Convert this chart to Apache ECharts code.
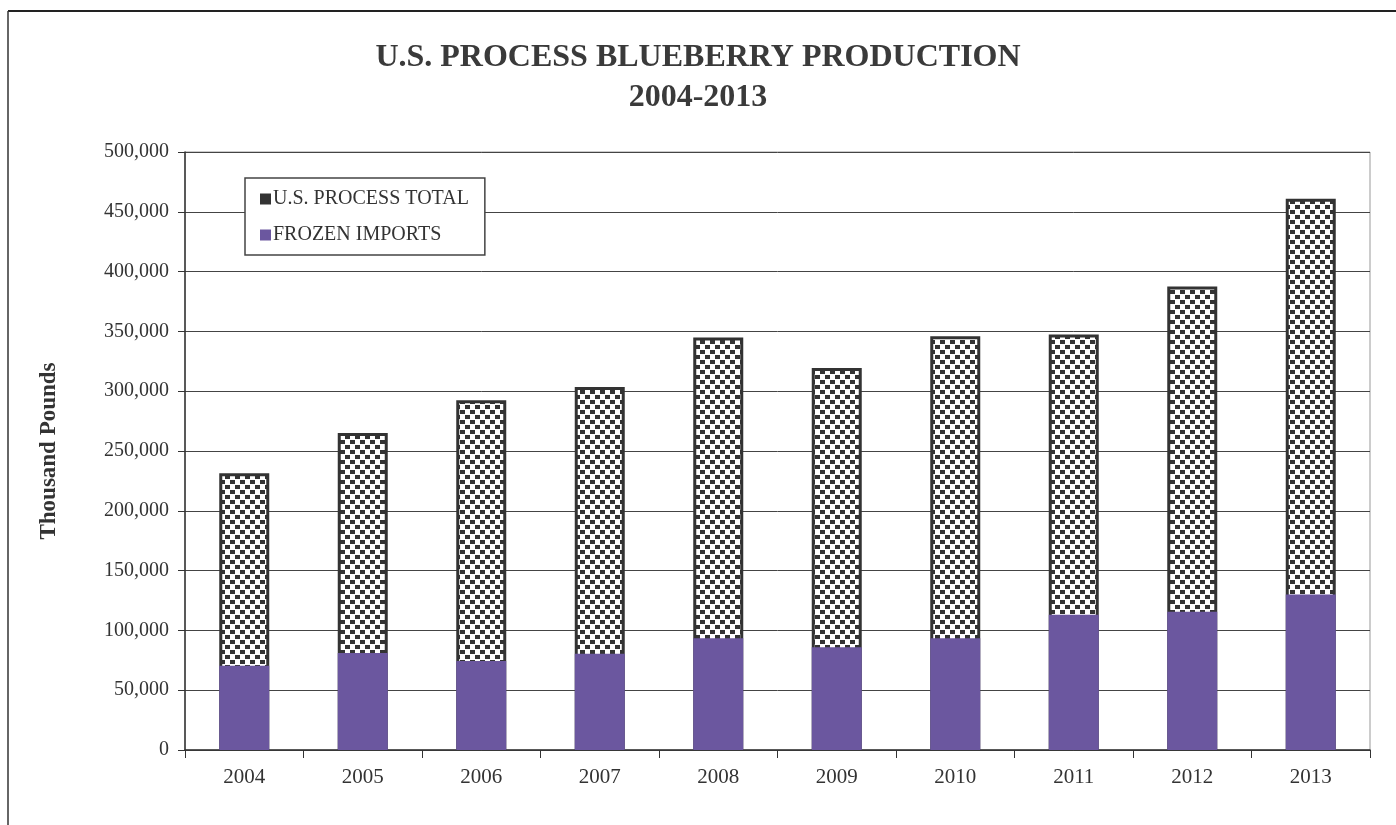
<!DOCTYPE html>
<html>
<head>
<meta charset="utf-8">
<script src="https://cdn.jsdelivr.net/npm/echarts@6/dist/echarts.min.js"></script>
<style>
  html, body { margin: 0; padding: 0; background: #fff; }
  #chart { width: 1396px; height: 825px; }
</style>
</head>
<body>
<div id="chart"></div>
<script>
// data
const years = ['2004', '2005', '2006', '2007', '2008', '2009', '2010', '2011', '2012', '2013'];
const processTotal = [231500, 265000, 292500, 303500, 345000, 319500, 346000, 347500, 387500, 461000];
const frozenImports = [70500, 81000, 74500, 80500, 93500, 86000, 93500, 113000, 115500, 130000];

const serif = '"Liberation Serif", "DejaVu Serif", serif';

// dotted fill for the total bars
const tile = document.createElement('canvas');
tile.width = 10;
tile.height = 10;
let ctx = tile.getContext('2d');
ctx.fillStyle = '#ffffff';
ctx.fillRect(0, 0, 10, 10);
ctx.fillStyle = '#333333';
ctx.fillRect(0, 0, 5, 4);
ctx.fillRect(5, 5, 5, 4);

let myChart = echarts.init(document.getElementById('chart'));

myChart.setOption({
    backgroundColor: '#fff',
    animation: false,
    title: {
        left: 'center',
        top: 33,
        text: 'U.S. PROCESS BLUEBERRY PRODUCTION\n2004-2013',
        textStyle: {
            fontFamily: serif,
            fontSize: 32,
            fontWeight: 'bold',
            color: '#3a3a3a',
            lineHeight: 40
        }
    },
    legend: {
        left: 245,
        top: 178,
        orient: 'vertical',
        padding: [11, 16, 10, 15],
        itemGap: 16,
        itemWidth: 11,
        itemHeight: 11,
        borderColor: '#444',
        borderWidth: 1.5,
        backgroundColor: '#fff',
        icon: 'rect',
        textStyle: { fontFamily: serif, fontSize: 20, color: '#333', padding: [0, 0, 0, -3] },
        data: [
            { name: 'U.S. PROCESS TOTAL', itemStyle: { color: '#333', borderWidth: 0 } },
            { name: 'FROZEN IMPORTS', itemStyle: { color: '#6b579f' } }
        ]
    },
    grid: {
        left: 185,
        right: 26,
        top: 152,
        bottom: 75,
        show: true,
        borderColor: '#999',
        borderWidth: 1
    },
    xAxis: {
        type: 'category',
        data: years,
        boundaryGap: true,
        axisLine: { lineStyle: { color: '#333', width: 1.5 } },
        axisTick: { show: true, interval: 0, length: 8, lineStyle: { color: '#333' } },
        axisLabel: { fontFamily: serif, fontSize: 21, color: '#333', margin: 17 }
    },
    yAxis: {
        type: 'value',
        min: 0,
        max: 500000,
        interval: 50000,
        name: 'Thousand Pounds',
        nameLocation: 'middle',
        nameGap: 124,
        nameTextStyle: { fontFamily: serif, fontSize: 23, fontWeight: 'bold', color: '#333' },
        axisLine: { show: true, lineStyle: { color: '#333', width: 1.5 } },
        axisTick: { show: true, length: 7, lineStyle: { color: '#333' } },
        axisLabel: {
            fontFamily: serif,
            fontSize: 20,
            color: '#333',
            margin: 16,
            formatter: function (v) { return v.toLocaleString('en-US'); }
        },
        splitLine: { lineStyle: { color: '#444', width: 1 } }
    },
    series: [
        {
            name: 'U.S. PROCESS TOTAL',
            type: 'bar',
            barWidth: 50,
            data: processTotal,
            itemStyle: {
                color: { image: tile, repeat: 'repeat' },
                borderColor: '#333',
                borderWidth: 3
            }
        },
        {
            name: 'FROZEN IMPORTS',
            type: 'bar',
            barWidth: 50,
            barGap: '-100%',
            data: frozenImports,
            itemStyle: { color: '#6b579f' }
        }
    ],
    graphic: [
        { type: 'line', shape: { x1: 8, y1: 11, x2: 1396, y2: 11 }, style: { stroke: '#222', lineWidth: 2 } },
        { type: 'line', shape: { x1: 8, y1: 11, x2: 8, y2: 825 }, style: { stroke: '#333', lineWidth: 1.5 } }
    ]
});
</script>
</body>
</html>
